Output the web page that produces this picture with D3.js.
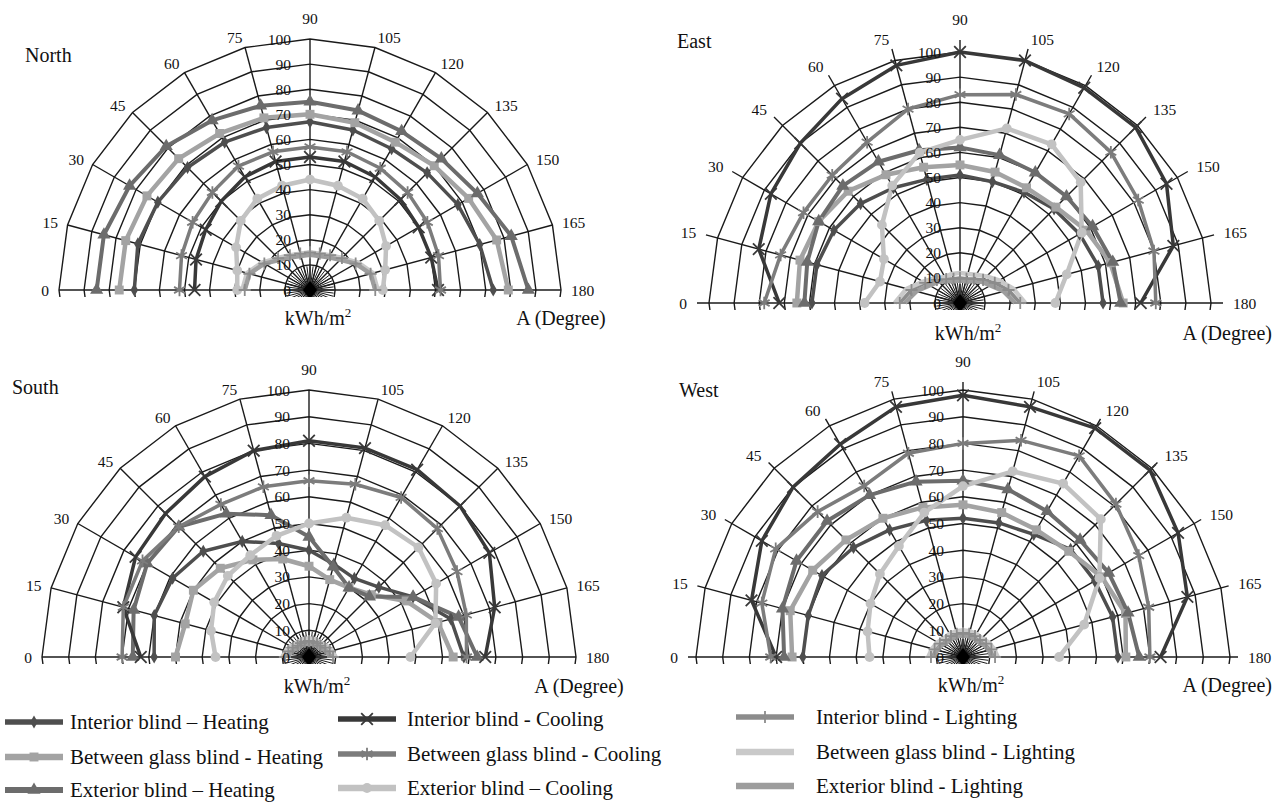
<!DOCTYPE html>
<html><head><meta charset="utf-8">
<script src="https://cdn.jsdelivr.net/npm/d3@7"></script>
<style>body{margin:0;background:#fff}svg{display:block}text{font-family:"Liberation Serif","Times New Roman",serif;fill:#111}</style>
</head><body><svg id="c" width="1277" height="812"></svg>
<script>
// ---------- data ----------
const angles = [0,15,30,45,60,75,90,105,120,135,150,165,180];
const radialTicks = [0,10,20,30,40,50,60,70,80,90,100];
const panelNames = ["North","East","South","West"];
const seriesNames = ["Interior blind \u2013 Heating","Between glass blind - Heating","Exterior blind \u2013 Heating",
  "Interior blind - Cooling","Between glass blind - Cooling","Exterior blind \u2013 Cooling",
  "Interior blind - Lighting","Between glass blind - Lighting","Exterior blind - Lighting"];
// order: IH, BH, EH, IC, BC, EC, IL, BL, EL
const northValues = [
  [70,71,70,69,68,67,67,66,65,66,68,70,73],
  [76,76,75,74,72,71,70,69,68,70,73,77,79],
  [85,85,83,81,78,76,75,74,73,74,77,83,87],
  [46,47,48,50,52,53,53,53,52,51,50,50,51],
  [52,53,54,55,57,57,57,57,56,55,54,53,52],
  [29,30,34,39,42,43,44,43,42,39,35,31,29],
  [26,25,21,18,16,15,15,15,16,18,21,25,26],
  [27,26,22,18,16,15,15,15,16,18,22,26,27],
  [26,25,21,17,15,14,14,14,15,17,21,25,26]];
const eastValues = [
  [59,59,58,56,53,51,51,50,51,53,55,57,57],
  [65,66,65,63,59,56,55,54,53,54,58,62,65],
  [62,63,65,66,65,63,62,61,60,60,61,63,64],
  [72,83,87,90,94,98,100,100,99,99,95,88,72],
  [78,74,72,72,74,80,83,86,87,85,82,80,78],
  [38,33,35,44,54,62,65,72,73,68,56,44,38],
  [24,20,16,13,11,10,10,10,11,13,16,20,24],
  [26,22,17,14,12,12,12,12,13,15,18,22,26],
  [22,18,14,12,10,9,9,9,10,12,14,18,22]];
const southValues = [
  [58,60,59,56,50,44,40,36,34,37,45,55,58],
  [50,48,50,47,42,38,34,30,30,33,42,50,54],
  [66,68,70,69,62,55,45,35,30,32,45,58,63],
  [63,72,75,76,78,80,81,81,81,80,78,72,66],
  [70,72,72,69,66,66,66,67,69,68,64,61,59],
  [35,38,41,43,44,47,50,54,57,58,55,49,38],
  [9,8,7,6,6,6,6,6,6,6,7,8,9],
  [10,9,8,7,7,7,7,7,7,7,8,9,10],
  [8,7,6,5,5,5,5,5,5,5,6,7,8]];
const westValues = [
  [60,60,61,58,55,53,52,52,53,57,57,58,58],
  [64,67,65,62,60,58,57,56,55,56,60,63,61],
  [67,70,72,72,70,68,66,65,63,62,63,64,66],
  [70,82,87,90,92,97,98,97,99,99,93,87,74],
  [72,78,81,77,74,79,80,84,87,81,76,72,70],
  [35,37,40,44,48,56,64,72,75,73,59,47,36],
  [12,11,10,9,9,9,9,9,9,9,10,11,12],
  [13,12,11,10,10,10,10,10,10,10,11,12,13],
  [11,10,9,8,8,8,8,8,8,8,9,10,11]];
const panelValues = [northValues, eastValues, southValues, westValues];

// ---------- styles / layout ----------
const styles = [
  {c:"#4e4e4e", w:3.5, m:"diamond",  ms:50},
  {c:"#a3a3a3", w:4.5, m:"square",   ms:80},
  {c:"#6c6c6c", w:4,   m:"triangle", ms:75},
  {c:"#383838", w:3.5, m:"times",    ms:90},
  {c:"#7c7c7c", w:3.5, m:"asterisk", ms:110},
  {c:"#c2c2c2", w:4.5, m:"circle",   ms:75},
  {c:"#8c8c8c", w:3.5, m:"plus",     ms:50},
  {c:"#c9c9c9", w:4.5, m:null},
  {c:"#9d9d9d", w:4.5, m:null}];
const layout = [
  {cx:310, cy:290, R:251, ext:0,  tx:25,  ty:62,  ky:325, ax:561,  anc:"middle"},
  {cx:960, cy:303, R:251, ext:12, tx:677, ty:48,  ky:340, ax:1272, anc:"end"},
  {cx:309, cy:657, R:267, ext:0,  tx:12,  ty:394, ky:693, ax:579,  anc:"middle"},
  {cx:963, cy:657, R:267, ext:8,  tx:679, ty:397, ky:692, ax:1272, anc:"end"}];

const svg = d3.select("#c");
const symType = {diamond:d3.symbolDiamond, square:d3.symbolSquare, triangle:d3.symbolTriangle,
  times:d3.symbolTimes||d3.symbolX||d3.symbolCross, asterisk:d3.symbolAsterisk||d3.symbolCross,
  circle:d3.symbolCircle, plus:d3.symbolPlus||d3.symbolCross};
const strokeSyms = new Set(["times","asterisk","plus"]);
const aScale = d3.scaleLinear().domain([0,360]).range([-Math.PI/2, 1.5*Math.PI]);

function drawMarker(g, s, x, y, size){
  if(!s.m) return;
  const p = d3.symbol().type(symType[s.m]).size(size||s.ms)();
  const el = g.append("path").attr("d", p).attr("transform", `translate(${x},${y})`);
  if(strokeSyms.has(s.m)) el.attr("fill","none").attr("stroke", s.c).attr("stroke-width",1.8);
  else el.attr("fill", s.c).attr("stroke","none");
}

panelNames.forEach((name, pi) => {
  const L = layout[pi];
  const r = d3.scaleLinear().domain([0,100]).range([0,L.R]);
  const g = svg.append("g");
  const clipId = "clip"+pi;
  svg.append("clipPath").attr("id", clipId).append("rect")
    .attr("x", -L.R-40).attr("y", -L.R-40).attr("width", 2*L.R+80).attr("height", L.R+40+7);
  const cg = g.append("g").attr("transform", `translate(${L.cx},${L.cy})`)
    .append("g").attr("clip-path", `url(#${clipId})`);
  const pt = (a, v) => { const t = aScale(a); return [Math.sin(t)*r(v), -Math.cos(t)*r(v)]; };

  // rings (24-gons)
  const ringAngles = d3.range(0, 360, 15);
  radialTicks.slice(1).forEach(v => {
    cg.append("path").attr("d", d3.lineRadial().angle(a => aScale(a)).radius(() => r(v)).curve(d3.curveLinearClosed)(ringAngles))
      .attr("fill","none").attr("stroke","#1a1a1a").attr("stroke-width",1.4);
  });
  // spokes
  angles.forEach(a => {
    const [x,y] = pt(a, 100); const k = (L.R+L.ext)/L.R;
    cg.append("line").attr("x1",0).attr("y1",0).attr("x2",x*k).attr("y2",y*k)
      .attr("stroke","#1a1a1a").attr("stroke-width",1.4);
  });
  // dense centre spokes
  d3.range(0, 360, 7.5).forEach(a => {
    const [x,y] = pt(a, 9.5);
    cg.append("line").attr("x1",0).attr("y1",0).attr("x2",x).attr("y2",y)
      .attr("stroke","#1a1a1a").attr("stroke-width",1);
  });

  // series
  const vals = panelValues[pi];
  const line = d3.lineRadial().angle((d,i) => aScale(angles[i])).radius(d => r(d));
  vals.forEach((sv, si) => {
    const s = styles[si];
    cg.append("path").attr("d", line(sv)).attr("fill","none").attr("stroke", s.c)
      .attr("stroke-width", s.w).attr("stroke-linejoin","round");
  });
  vals.forEach((sv, si) => {
    const s = styles[si];
    sv.forEach((v, i) => { const [x,y] = pt(angles[i], v); drawMarker(cg, s, x, y); });
  });
  // centre diamond
  cg.append("path").attr("d","M0,-9L7,0L0,9L-7,0Z").attr("fill","#000");

  // radial tick labels
  const lg = g.append("g").attr("transform", `translate(${L.cx},${L.cy})`);
  radialTicks.forEach(v => {
    lg.append("text").attr("x",-19).attr("y",-r(v)).attr("text-anchor","end")
      .attr("dominant-baseline","central").attr("font-size",15.5).text(v);
  });
  // angle labels
  angles.forEach(a => {
    const rad = a*Math.PI/180, dx = -Math.cos(rad), dy = -Math.sin(rad);
    const re = L.R + L.ext;
    let x = dx*re, y = dy*re, anchor;
    if (a === 90) { y -= 21; anchor = "middle"; }
    else { x += dx*10; y += dy*10; anchor = dx < 0 ? "end" : "start"; }
    lg.append("text").attr("x",x).attr("y",y).attr("text-anchor",anchor)
      .attr("dominant-baseline","central").attr("font-size",15.5).text(a);
  });
  // titles and axis names
  svg.append("text").attr("x",L.tx).attr("y",L.ty).attr("font-size",20).text(name);
  const kt = svg.append("text").attr("x",L.cx+8).attr("y",L.ky).attr("text-anchor","middle").attr("font-size",20);
  kt.append("tspan").text("kWh/m");
  kt.append("tspan").attr("dy",-8).attr("font-size",13).text("2");
  svg.append("text").attr("x",L.ax).attr("y",L.ky).attr("text-anchor",L.anc).attr("font-size",20).text("A (Degree)");
});

// ---------- legend ----------
const legendPos = [
  {sx:5,   tx:70,  y:729}, {sx:5,   tx:70,  y:764}, {sx:5,   tx:70,  y:797},
  {sx:338, tx:407, y:726}, {sx:338, tx:407, y:761}, {sx:338, tx:407, y:795},
  {sx:736, tx:816, y:724}, {sx:736, tx:816, y:759}, {sx:736, tx:816, y:793}];
seriesNames.forEach((n, i) => {
  const p = legendPos[i], s = styles[i];
  const lg = svg.append("g");
  lg.append("line").attr("x1",p.sx).attr("x2",p.sx+58).attr("y1",p.y-7).attr("y2",p.y-7)
    .attr("stroke",s.c).attr("stroke-width",s.w+2);
  drawMarker(lg, s, p.sx+29, p.y-7);
  lg.append("text").attr("x",p.tx).attr("y",p.y).attr("font-size",21).text(n);
});
</script></body></html>
